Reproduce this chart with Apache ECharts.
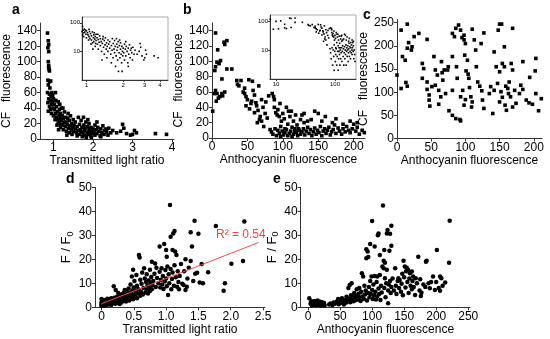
<!DOCTYPE html>
<html><head><meta charset="utf-8">
<script src="https://cdn.jsdelivr.net/npm/echarts@6/dist/echarts.min.js"></script>
<style>html,body{margin:0;padding:0;background:#fff}#c{width:550px;height:339px}</style>
</head><body><div id="c"></div>
<script>
// ---- Panel a: CF fluorescence vs transmitted light ratio ----
const aPoints = [
[0.85,137],[0.87,127],[0.88,122],[0.86,118],[0.88,113],[0.87,100],[0.88,95],[0.89,90],[0.9,88],[0.88,92],
[0.86,76],[0.9,74],[0.93,75],[0.87,70],[0.91,66],[0.85,60],[0.9,58],[0.94,55],[0.88,52],[0.92,50],
[0.86,47],[0.95,45],[0.9,42],[0.93,38],[0.87,36],[0.96,60],[0.98,56],[0.97,48],[0.99,40],[0.95,33],
[1.0,52],[1.02,45],[1.03,38],[1.05,60],[1.05,33],[1.07,28],[1.08,42],[1.1,25],[1.1,35],[1.12,48],
[1.12,20],[1.14,30],[1.15,38],[1.15,22],[1.17,27],[1.18,15],[1.18,33],[1.2,24],[1.2,40],[1.04,25],
[1.06,50],[1.09,18],[1.13,12],[1.0,30],[1.16,45],[1.19,19],
[1.22,30],[1.23,18],[1.25,26],[1.25,12],[1.27,21],[1.28,35],[1.3,16],[1.3,28],[1.32,22],[1.33,10],
[1.35,19],[1.36,27],[1.38,14],[1.4,24],[1.4,8],[1.42,17],[1.43,30],[1.45,12],[1.46,20],[1.48,15],
[1.5,10],[1.5,25],[1.24,40],[1.34,5],[1.47,6],[1.37,33],
[1.52,18],[1.55,13],[1.55,22],[1.58,8],[1.6,16],[1.62,11],[1.63,28],[1.65,6],[1.66,19],[1.68,12],
[1.7,9],[1.7,24],[1.72,15],[1.75,7],[1.77,18],[1.78,11],[1.8,5],[1.8,14],[1.82,22],[1.85,9],
[1.86,16],[1.88,6],[1.9,12],[1.9,20],[1.92,8],[1.94,4],[1.95,15],[1.97,10],[1.98,7],[2.0,13],
[1.6,4],[1.73,3],[1.83,2],[1.96,2],[1.87,25],[1.76,28],
[2.02,9],[2.05,18],[2.05,5],[2.08,12],[2.1,7],[2.12,15],[2.15,10],[2.18,4],[2.2,13],[2.22,8],
[2.25,17],[2.28,6],[2.3,11],[2.35,9],[2.38,5],[2.4,14],[2.45,8],[2.5,11],[2.1,22],[2.2,3],[2.33,13],
[2.6,8],[2.7,10],[2.75,19],[2.78,14],[2.85,7],[2.95,5],[3.05,11],[3.1,8],[3.0,6],[3.58,7],[3.86,6]
];
const aXTicks = [1, 2, 3, 4];
const aYTicks = [0, 20, 40, 60, 80, 100, 120, 140];
const aInsetXTicks = [1, 2, 3, 4];
const insetYTicks = [10, 100];

// ---- Panel b: CF fluorescence vs anthocyanin fluorescence ----
const bPoints = [
[1,35],[5,137],[8,115],[7,99],[5,93],[4,88],[10,97],[12,101],[14,77],[17,125],[21,127],[18,122],[21,90],
[5,62],[7,58],[11,54],[9,52],[14,58],[18,60],[28,90],[3,58],[6,48],[15,55],[35,75],[36,70],[38,68],
[41,75],[44,60],[46,65],[46,58],[48,54],[50,50],[52,76],[55,45],[57,74],[58,62],[48,42],[53,38],[56,48],
[60,56],[62,46],[63,42],[60,33],[65,36],[66,68],[68,28],[70,50],[72,40],[73,15],[75,32],[64,20],[67,24],
[78,26],[80,55],[82,11],[76,47],[70,22],
[85,58],[87,54],[88,50],[90,33],[92,30],[93,37],[95,28],[96,45],[98,22],[100,32],[102,25],[105,40],
[107,18],[110,28],[112,35],[115,22],[118,30],[120,17],[125,24],[130,20],[88,40],[97,15],[103,12],[108,35],
[113,14],[117,9],[122,12],[127,30],[135,22],
[84,8],[86,5],[89,12],[91,3],[93,10],[95,6],[97,2],[99,9],[101,4],[103,7],[105,11],[107,3],[109,6],[111,9],
[113,2],[115,5],[117,12],[119,7],[121,3],[123,10],[125,5],[127,8],[129,12],[131,4],[133,9],[135,14],[137,6],
[139,11],[141,3],[143,8],[145,13],[147,5],[149,10],[151,7],[153,15],[155,3],[157,9],[159,12],[161,6],
[163,10],[165,14],[167,4],[169,8],[171,11],[173,17],[175,6],[178,13],[180,9],[183,5],[185,12],[188,8],
[190,15],[193,10],[195,7],[198,12],[200,18],[203,9],[205,14],[208,5],[212,10],[215,7],[218,4],
[145,35],[150,32],[160,28],[140,24],[170,20],[185,18],[195,22],[205,20],[130,32],[155,22],[175,25]
];
const bXTicks = [0, 50, 100, 150, 200];
const bYTicks = [0, 20, 40, 60, 80, 100, 120, 140];
const bInsetXTicks = [10, 100];

// ---- Panel c: CF fluorescence vs anthocyanin fluorescence ----
const cPoints = [
[0,137],[6,234],[15,247],[8,177],[12,169],[6,108],[13,121],[15,113],[17,207],[15,195],[22,198],[25,220],
[32,227],[21,191],[37,162],[39,151],[37,130],[44,122],[44,106],[47,94],[47,83],[48,70],[44,214],[54,177],
[56,148],[59,137],[51,112],[56,115],[61,104],[64,90],[61,74],[65,166],[66,142],[69,148],[67,126],[71,97],
[74,148],[75,155],[81,104],[76,60],[81,50],[86,43],[92,41],[93,38],[81,177],[88,130],[87,155],[81,227],
[84,220],[86,238],[90,245],[93,234],[95,218],[98,223],[98,213],[100,205],[99,180],[103,169],[101,146],
[104,139],[105,130],[106,110],[96,104],[93,90],[100,84],[98,72],[108,90],[110,79],[110,236],[113,213],
[115,191],[116,155],[118,122],[121,113],[124,103],[125,83],[127,65],[109,68],[123,205],[127,228],[135,97],
[137,112],[140,54],[142,187],[147,119],[150,79],[150,247],[148,234],[153,247],[154,162],[157,155],[152,101],
[154,89],[159,113],[162,108],[164,122],[158,72],[160,61],[167,162],[169,148],[172,104],[174,76],[169,68],
[179,97],[181,115],[184,106],[184,166],[189,83],[193,77],[194,132],[198,74],[202,146],[203,173],[207,60],
[211,86],[203,97],[169,238],[157,198],[145,155],[150,144],[142,104],[163,97],[166,90]
];
const cXTicks = [0, 50, 100, 150, 200];
const cYTicks = [0, 50, 100, 150, 200, 250];

// ---- Panel d: F/F0 vs transmitted light ratio ----
const dPoints = [
[0,0.5],[0,1.2],[0,2],[0,3.5],[0.01,1],[0.02,2.5],[0.02,0.8],[0.03,1.8],[0.04,3],[0.05,1.3],[0.05,2.2],
[0.06,0.7],[0.07,1.6],[0.08,2.8],[0.08,1],[0.09,3.6],[0.1,2],[0.1,1.2],
[0.11,2.6],[0.12,1.5],[0.13,3.2],[0.14,2],[0.15,1],[0.15,3.8],[0.16,2.5],[0.17,1.7],[0.18,3],[0.19,8.8],
[0.2,2.2],[0.2,4],[0.21,1.5],[0.22,3.3],[0.23,2.6],[0.24,4.4],[0.25,1.8],[0.25,3],[0.26,2.3],[0.27,3.8],
[0.28,5],[0.28,1.4],[0.29,2.8],[0.3,4.2],[0.3,3.3],[0.22,7.2],[0.26,6],
[0.31,2],[0.32,5.5],[0.33,3.5],[0.34,4.5],[0.35,2.7],[0.35,6.2],[0.36,3.8],[0.36,7.2],[0.37,5],[0.38,2.4],
[0.38,4],[0.39,6.6],[0.4,3.1],[0.4,5.4],[0.41,4.2],[0.42,7.8],[0.43,2.8],[0.43,6],[0.44,4.8],[0.45,3.5],
[0.45,9.5],[0.46,5.6],[0.47,12.8],[0.47,4.2],[0.48,7],[0.49,15.6],[0.49,3.4],[0.5,5.2],[0.5,8.3],
[0.51,11],[0.52,4.4],[0.53,6.8],[0.54,13.5],[0.55,3.8],[0.55,9],[0.56,5.8],[0.57,7.5],[0.58,21.8],[0.59,20.8],
[0.6,4.8],[0.6,11.5],[0.61,6.5],[0.62,9.8],[0.63,14.5],[0.64,5.3],[0.65,8],[0.66,16.3],[0.67,12],[0.68,6.2],
[0.69,10.5],[0.7,7.3],[0.7,13.8],[0.71,9],[0.72,5.8],[0.73,11.2],[0.74,8.2],[0.75,15.6],[0.75,6.8],[0.76,10],
[0.77,12.6],[0.78,19],[0.78,7.5],[0.79,9.3],[0.8,11],
[0.82,14],[0.83,18.3],[0.84,8.5],[0.85,16.5],[0.86,12.2],[0.88,10],[0.9,25.3],[0.9,14.8],[0.91,8.2],
[0.92,11.5],[0.93,16.3],[0.94,9.5],[0.95,13],[0.96,7.6],[0.97,26.4],[0.98,10.7],[0.99,15.5],[1.0,23.9],
[1.0,12],[1.01,21.1],[1.01,8.8],[1.02,17],[1.03,5.1],[1.04,13.8],[1.05,10],[1.06,42.6],[1.07,29.4],[1.07,16],
[1.08,7.5],[1.09,11.8],[1.1,23.9],[1.1,14.5],[1.11,30.8],[1.12,9],[1.13,31.8],[1.13,17.5],[1.14,23.2],
[1.15,12.5],[1.16,21.8],[1.17,8.6],[1.18,15],[1.19,10.5],[1.2,7.5],
[1.21,13],[1.23,18],[1.25,9.8],[1.27,9.3],[1.28,15],[1.3,20],[1.3,7.2],[1.32,8.6],[1.33,12],[1.35,16.5],
[1.38,19.3],[1.38,31.3],[1.4,25.3],[1.42,11],[1.44,36.1],[1.45,14],[1.48,14.4],[1.5,30.6],[1.52,10.3],
[1.55,18],[1.57,10],[1.65,14.6],[1.77,33.9],[1.89,6.9],[1.91,10],[2.01,18.1],[2.19,19.3],[2.21,35.7]
];
const dFitLine = [[0, 1.5], [2.43, 27]];
const dFitLabel = 'R\u00B2 = 0.54';
const dXTicks = [0, 0.5, 1.0, 1.5, 2.0, 2.5];
const deYTicks = [0, 10, 20, 30, 40, 50];

// ---- Panel e: F/F0 vs anthocyanin fluorescence ----
const ePoints = [
[2,3.8],[4,1.5],[5,2.5],[6,0.8],[8,1.8],[9,1.2],[10,2.6],[12,0.9],[13,2],[14,1.4],[15,2.8],[16,1],[18,1.7],
[19,2.3],[20,0.8],[21,1.5],[22,2.1],[24,1.1],[25,1.8],[26,0.7],
[33,1.2],[35,1.6],[38,1],[40,2],[42,1.5],[45,2.4],[47,3.5],[48,1.3],[50,2.8],[52,1.9],[53,3.8],[55,2.3],
[56,1.2],[58,3],[60,2],[60,4.4],[62,2.7],[63,8],[64,3.6],[65,9.3],[66,2.1],[67,5],[68,10],[69,3.2],[70,4.2],
[71,2.5],[72,6],[73,3.7],[74,2.9],[75,4.8],[76,7.5],[78,3.3],[79,5.6],[80,4.1],[80,8],
[82,2.6],[83,6.5],[84,14.2],[85,4.5],[86,12.8],[87,3.5],[88,9],[89,5.3],[90,7],[91,24.2],[91,20.4],[92,2.8],
[93,23.2],[94,21],[94,6],[95,8.5],[96,4.2],[97,26.4],[97,11],[98,5.5],[99,12.8],[100,36],[100,7.2],[101,3.5],
[102,9.5],[103,5],[104,25.3],[104,13],[105,6.5],[106,3.2],[107,10.5],[108,12.8],[108,4.5],[109,30],[110,30.8],
[110,7.8],[111,5.5],[112,21.8],[112,13.5],[113,3],[114,9],[115,6.2],[116,17],[117,42.4],[118,19.4],[118,16.3],
[119,23.9],[119,8],[120,18.6],[120,12.1],[121,4.2],[122,10],[123,15.6],[123,30.8],[124,32.2],[125,7],[125,1.7],
[126,9.5],[127,23.6],[128,30.6],[128,11],[129,6],[130,34],[130,25.6],[130,8.5],
[132,12],[134,7],[136,16.3],[137,9],[138,5.5],[140,11],[141,12.1],[142,8],[143,11.4],[145,6.5],[146,9.8],
[147,14],[148,5],[149,19.4],[150,12.5],[151,17],[152,8.2],[153,15],[154,16.5],[155,10.5],[156,15.6],[157,6],
[158,12],[159,14.2],[160,9],[162,14.9],[162,7.5],[163,11],[164,12.8],[165,8.5],[167,5.1],[168,12.1],[170,10],
[172,21.1],[174,7],[175,11.7],[176,4.7],[177,6.1],[180,9.5],[183,8.5],[184,19],[185,19.4],[188,10],[190,7.9],
[192,10.5],[195,12.8],[198,7.2],[200,10.5],[201,23.9],[204,8],[206,12.8],[206,6.9],[208,12.1],[210,9],
[214,10.3],[220,18.6],[221,36.1]
];
const eXTicks = [0, 50, 100, 150, 200, 250];

const panelLetters = ['a', 'b', 'c', 'd', 'e'];
const xNames = ['Transmitted light ratio', 'Anthocyanin fluorescence', 'Anthocyanin fluorescence',
                'Transmitted light ratio', 'Anthocyanin fluorescence'];
const cfName = 'CF   fluorescence';

// ---------------------------------------------------------------
const FONT = 'Liberation Sans, Arial, sans-serif';
const AX = '#333';
const log10 = v => Math.log10(v);
const toLog = pts => pts.filter(p => p[0] > 0 && p[1] > 0).map(p => [log10(p[0]), log10(p[1])]);

function axis(o) {
  const fs = o.fs || 12;
  const ax = {
    type: 'value', gridIndex: o.g, min: o.min, max: o.max,
    axisLine: { show: true, onZero: false, lineStyle: { color: AX, width: 1 } },
    axisTick: { show: true, customValues: o.ticks, length: o.tl || 3, inside: false, lineStyle: { color: AX, width: 1 } },
    axisLabel: { customValues: o.labels, color: '#000', fontSize: fs, fontFamily: FONT, margin: o.margin || 3,
                 formatter: o.fmt || (v => String(v)) },
    splitLine: { show: false }
  };
  if (o.name) {
    ax.name = o.name; ax.nameLocation = 'middle'; ax.nameGap = o.nameGap;
    ax.nameTextStyle = Object.assign({ color: '#000', fontSize: 12, fontFamily: FONT }, o.nameStyle || {});
  }
  return ax;
}
const fmtFixed1 = v => (v === 0 ? '0' : v.toFixed(1));
const fmtPow = v => String(Math.round(Math.pow(10, v)));

const grids = [
  { left: 40, top: 23, width: 134, height: 116 },   // 0 a
  { left: 82, top: 17, width: 86, height: 63, show: true, borderColor: '#888', borderWidth: 0.7, backgroundColor: '#fff' }, // 1 a inset
  { left: 212, top: 23, width: 153, height: 115 },  // 2 b
  { left: 270, top: 15, width: 86, height: 64, show: true, borderColor: '#888', borderWidth: 0.7, backgroundColor: '#fff' }, // 3 b inset
  { left: 397, top: 19.5, width: 145, height: 119 }, // 4 c
  { left: 95, top: 187.3, width: 170, height: 120 }, // 5 d
  { left: 300.7, top: 187.3, width: 169.3, height: 120 } // 6 e
];

const FF0 = '{n|F / F}{s|0}';
const ffRich = { n: { fontSize: 13, fontFamily: FONT, color: '#000' }, s: { fontSize: 9, fontFamily: FONT, color: '#000', padding: [7, 0, 0, 0] } };

const xAxes = [
  axis({ g: 0, min: 0.66, max: 4.05, labels: aXTicks, ticks: aXTicks, name: xNames[0], nameGap: 14 }),
  axis({ g: 1, min: log10(0.92), max: log10(4.65), labels: aInsetXTicks.map(log10), ticks: aInsetXTicks.map(log10), fs: 6, tl: 2, margin: 2, fmt: fmtPow }),
  axis({ g: 2, min: 0, max: 216, labels: bXTicks, ticks: bXTicks, name: xNames[1], nameGap: 14 }),
  axis({ g: 3, min: log10(7.9), max: log10(227), labels: bInsetXTicks.map(log10), ticks: bInsetXTicks.map(log10), fs: 6, tl: 2, margin: 2, fmt: fmtPow }),
  axis({ g: 4, min: 0, max: 212, labels: cXTicks, ticks: cXTicks, name: xNames[2], nameGap: 15 }),
  axis({ g: 5, min: -0.1, max: 2.53, labels: dXTicks, ticks: dXTicks, name: xNames[3], nameGap: 15, fmt: fmtFixed1 }),
  axis({ g: 6, min: -11.4, max: 252.7, labels: eXTicks, ticks: eXTicks, name: xNames[4], nameGap: 15 })
];
const yAxes = [
  axis({ g: 0, min: 0, max: 150, labels: aYTicks, ticks: aYTicks, name: cfName, nameGap: 21 }),
  axis({ g: 1, min: 0, max: log10(160), labels: insetYTicks.map(log10), ticks: insetYTicks.map(log10), fs: 6, tl: 2, margin: 2, fmt: fmtPow }),
  axis({ g: 2, min: 0, max: 150, labels: bYTicks, ticks: bYTicks, name: cfName, nameGap: 17 }),
  axis({ g: 3, min: 0, max: log10(161), labels: insetYTicks.map(log10), ticks: insetYTicks.map(log10), fs: 6, tl: 2, margin: 2, fmt: fmtPow }),
  axis({ g: 4, min: 0, max: 257, labels: cYTicks, ticks: cYTicks, name: cfName, nameGap: 23 }),
  axis({ g: 5, min: 0, max: 50, labels: deYTicks, ticks: deYTicks, name: FF0, nameGap: 18, nameStyle: { rich: ffRich } }),
  axis({ g: 6, min: 0, max: 50, labels: deYTicks, ticks: deYTicks, name: FF0, nameGap: 17, nameStyle: { rich: ffRich } })
];

function sc(i, data, symbol, size) {
  return { type: 'scatter', xAxisIndex: i, yAxisIndex: i, data: data, symbol: symbol, symbolSize: size,
           itemStyle: { color: '#000', opacity: 1 }, silent: true, animation: false };
}

const series = [
  sc(0, aPoints, 'rect', 3.6),
  sc(1, toLog(aPoints), 'rect', 1.6),
  sc(2, bPoints, 'rect', 3.6),
  sc(3, toLog(bPoints), 'rect', 1.6),
  sc(4, cPoints, 'rect', 3.6),
  sc(5, dPoints, 'circle', 4.5),
  sc(6, ePoints, 'circle', 4.5),
  { type: 'line', xAxisIndex: 5, yAxisIndex: 5, data: dFitLine, symbol: 'none', z: 5, silent: true,
    lineStyle: { color: '#ff4a4a', width: 1 }, animation: false }
];

const letterPos = [[12, 3], [183, 3], [363, 8], [66, 172], [273, 172]];
const graphic = panelLetters.map((t, i) => ({
  type: 'text', left: letterPos[i][0], top: letterPos[i][1],
  style: { text: t, fill: '#000', font: 'bold 14px ' + FONT }
}));
graphic.push({ type: 'text', left: 216, top: 229, z: 10,
  style: { text: dFitLabel, fill: '#ff3b3b', font: '12px ' + FONT } });

const chart = echarts.init(document.getElementById('c'), null, { renderer: 'canvas' });
chart.setOption({
  animation: false,
  backgroundColor: '#fff',
  grid: grids,
  xAxis: xAxes,
  yAxis: yAxes,
  series: series,
  graphic: graphic
});
</script></body></html>
